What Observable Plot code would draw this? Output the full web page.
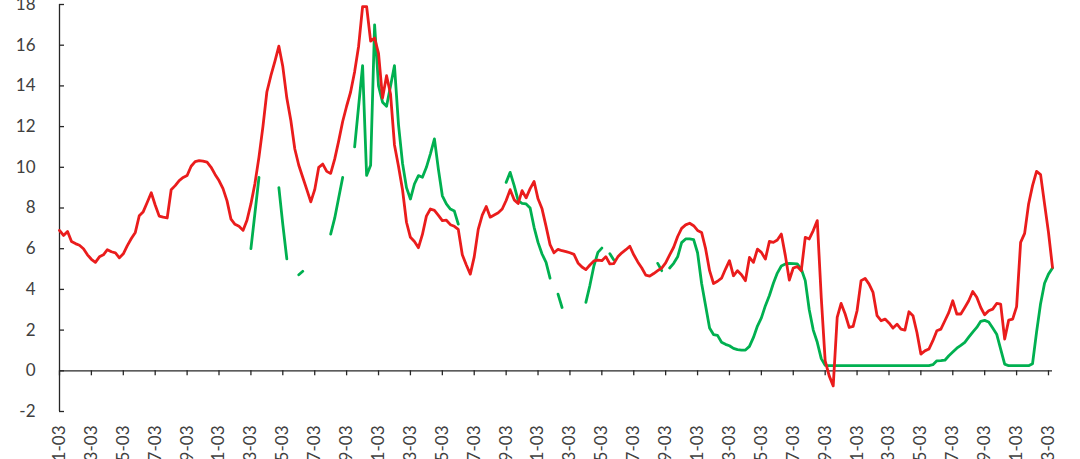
<!DOCTYPE html>
<html>
<head>
<meta charset="utf-8">
<script src="https://cdn.jsdelivr.net/npm/d3@7"></script>
<script src="https://cdn.jsdelivr.net/npm/@observablehq/plot@0.6"></script>
<style>
  html, body { margin: 0; padding: 0; background: #ffffff; overflow: hidden; }
</style>
</head>
<body>
<div id="chart"></div>
<script>
// Quarterly series, first quarter = 1961-03
const startYear = 1961;
const startMonth = 3;

const redSeries = [
  6.9, 6.65, 6.85, 6.35, 6.25, 6.17, 6.0, 5.7, 5.48, 5.33,
  5.6, 5.7, 5.95, 5.85, 5.8, 5.55, 5.75, 6.15, 6.5, 6.8,
  7.62, 7.82, 8.28, 8.75, 8.15, 7.6, 7.55, 7.51, 8.9, 9.1,
  9.35, 9.5, 9.6, 10.05, 10.28, 10.33, 10.3, 10.25, 10.0, 9.65,
  9.35, 8.95, 8.35, 7.45, 7.2, 7.1, 6.9, 7.4, 8.2, 9.2,
  10.5, 12.0, 13.7, 14.5, 15.2, 15.95, 14.95, 13.4, 12.3, 10.9,
  10.1, 9.5, 8.9, 8.3, 8.9, 10.0, 10.16, 9.8, 9.7, 10.4,
  11.3, 12.25, 13.0, 13.7, 14.7, 15.95, 17.9, 17.9, 16.2, 16.35,
  15.6, 13.4, 14.5, 13.6, 11.1, 10.05, 8.9, 7.3, 6.56, 6.35,
  6.05, 6.7, 7.6, 7.95, 7.88, 7.64, 7.38, 7.4, 7.18, 7.1,
  6.95, 5.7, 5.2, 4.75, 5.6, 6.95, 7.65, 8.07, 7.55, 7.66,
  7.77, 7.95, 8.37, 8.9, 8.4, 8.22, 8.85, 8.5, 8.95, 9.3,
  8.45, 7.96, 7.1, 6.2, 5.8, 5.97, 5.9, 5.86, 5.8, 5.72,
  5.3, 5.1, 4.97, 5.2, 5.4, 5.44, 5.41, 5.61, 5.25, 5.27,
  5.6, 5.8, 5.95, 6.12, 5.7, 5.35, 5.05, 4.7, 4.65, 4.78,
  4.92, 5.05, 5.3, 5.7, 6.07, 6.6, 7.0, 7.17, 7.25, 7.13,
  6.9, 6.8, 6.0, 4.92, 4.29, 4.4, 4.55, 5.0, 5.41, 4.67,
  4.92, 4.72, 4.43, 5.57, 5.33, 5.98, 5.82, 5.49, 6.36, 6.31,
  6.43, 6.72, 5.66, 4.46, 5.05, 5.12, 4.92, 6.56, 6.48, 6.89,
  7.38, 3.61, 0.49, -0.25, -0.74, 2.62, 3.31, 2.79, 2.13, 2.18,
  2.95, 4.43, 4.54, 4.26, 3.85, 2.71, 2.46, 2.54, 2.35, 2.10,
  2.29, 2.05, 2.00, 2.90, 2.71, 1.88, 0.82, 0.98, 1.07, 1.48,
  1.97, 2.05, 2.46, 2.87, 3.44, 2.79, 2.79, 3.11, 3.44, 3.90,
  3.61, 3.11, 2.75, 2.95, 3.03, 3.31, 3.28, 1.56, 2.49, 2.54,
  3.15, 6.31, 6.75, 8.20, 9.10, 9.80, 9.64, 8.20, 6.80, 5.08
];

const greenSeries = [
  null, null, null, null, null, null, null, null, null, null,
  null, null, null, null, null, null, null, null, null, null,
  null, null, null, null, null, null, null, null, null, null,
  null, null, null, null, null, null, null, null, null, null,
  null, null, null, null, null, null, null, null, 6.0, 7.75,
  9.5, null, null, null, null, 9.0, 7.2, 5.5, null, null,
  4.72, 4.89, null, null, null, null, null, null, 6.72, 7.5,
  8.5, 9.5, null, null, 11.0, 13.0, 15.0, 9.6, 10.1, 17.0,
  14.0, 13.2, 13.0, 14.0, 15.0, 12.1, 10.2, 9.0, 8.44, 9.18,
  9.59, 9.51, 10.0, 10.66, 11.4, 9.9, 8.6, 8.2, 7.95, 7.85,
  7.21, null, null, null, null, null, null, null, null, null,
  null, null, 9.26, 9.75, 9.1, 8.36, 8.23, 8.2, 8.0, 7.05,
  6.31, 5.74, 5.33, 4.55, null, 3.77, 3.11, null, null, null,
  null, null, 3.36, 4.2, 5.16, 5.82, 6.03, null, 5.75, 5.45,
  null, null, null, null, null, null, null, null, null, null,
  5.28, 4.92, null, 5.05, 5.28, 5.6, 6.3, 6.48, 6.48, 6.45,
  5.8, 4.3, 3.2, 2.1, 1.78, 1.74, 1.4, 1.3, 1.23, 1.1,
  1.04, 1.02, 1.02, 1.2, 1.64, 2.2, 2.6, 3.2, 3.7, 4.3,
  4.8, 5.15, 5.25, 5.28, 5.27, 5.25, 5.0, 4.43, 3.0, 2.0,
  1.4, 0.6, 0.27, 0.25, 0.25, 0.25, 0.25, 0.25, 0.25, 0.25,
  0.25, 0.25, 0.25, 0.25, 0.25, 0.25, 0.25, 0.25, 0.25, 0.25,
  0.25, 0.25, 0.25, 0.25, 0.25, 0.25, 0.25, 0.25, 0.25, 0.3,
  0.49, 0.5, 0.52, 0.74, 0.92, 1.11, 1.25, 1.4, 1.65, 1.9,
  2.13, 2.43, 2.48, 2.4, 2.1, 1.8, 1.07, 0.33, 0.25, 0.25,
  0.25, 0.25, 0.25, 0.25, 0.35, 1.9, 3.3, 4.3, 4.75, 5.05
];

const yTickValues = [-2, 0, 2, 4, 6, 8, 10, 12, 14, 16, 18];
const xTickYears = d3.range(1961, 2024, 2); // labelled every two years, month 03

// ---- build tables ----
const dates = redSeries.map((_, i) => new Date(Date.UTC(startYear, startMonth - 1 + 3 * i, 1)));
const redData = redSeries.map((v, i) => ({date: dates[i], value: v}));
const greenData = greenSeries.map((v, i) => ({date: dates[i], value: v}));
const xTicks = xTickYears.map(y => new Date(Date.UTC(y, startMonth - 1, 1)));
const fmt = d3.utcFormat("%Y-%m");
const axisColor = "#262626";
const textColor = "#404040";

const chart = Plot.plot({
  width: 1080,
  height: 459,
  marginLeft: 59,
  marginRight: 28,
  marginTop: 4,
  marginBottom: 48,
  style: {fontFamily: "Lato, 'Open Sans', sans-serif", fontSize: "17px", color: textColor, background: "#ffffff", overflow: "visible"},
  x: {type: "utc", domain: [dates[0], dates[dates.length - 1]], axis: null},
  y: {domain: [-2, 18], axis: null},
  marks: [
    Plot.axisY({ticks: yTickValues, label: null, tickSize: 0, tickPadding: 24, tickFormat: d => String(d), fontSize: 17, fill: textColor}),
    Plot.axisX({ticks: xTicks, label: null, tickFormat: fmt, tickRotate: -90, tickSize: 0, tickPadding: 14, fontSize: 17, fill: textColor}),
    Plot.ruleX([dates[0]], {stroke: axisColor, strokeWidth: 1.3}),
    Plot.ruleY([0], {stroke: axisColor, strokeWidth: 1.3}),
    Plot.ruleY(yTickValues, {y: d => d, x1: () => dates[0], x2: () => dates[0], insetRight: -5, stroke: axisColor, strokeWidth: 1.3}),
    Plot.ruleX(xTicks, {x: d => d, y1: () => 0, y2: () => 0, insetBottom: -5, stroke: axisColor, strokeWidth: 1.3}),
    Plot.line(greenData, {x: "date", y: "value", stroke: "#00b050", strokeWidth: 2.8, strokeLinejoin: "round"}),
    Plot.line(redData, {x: "date", y: "value", stroke: "#ea1c1c", strokeWidth: 2.8, strokeLinejoin: "round"})
  ]
});
document.getElementById("chart").appendChild(chart);
</script>
</body>
</html>
